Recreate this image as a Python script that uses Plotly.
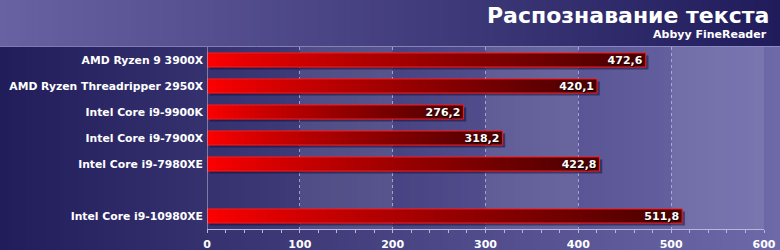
import plotly.graph_objects as go

# ---- data ----
categories = ["AMD Ryzen 9 3900X", "AMD Ryzen Threadripper 2950X", "Intel Core i9-9900K",
              "Intel Core i9-7900X", "Intel Core i9-7980XE", "Intel Core i9-10980XE"]
values = [472.6, 420.1, 276.2, 318.2, 422.8, 511.8]
slots = [0, 1, 2, 3, 4, 6]          # row index (row 5 is an empty gap)
x_ticks = [0, 100, 200, 300, 400, 500, 600]
title = "Распознавание текста"
subtitle = "Abbyy FineReader"

# ---- layout constants ----
W, H = 780, 250
ML, MR, MT, MB = 207, 16, 47, 21
PW, PH = W - ML - MR, H - MT - MB
FONT = "DejaVu Sans"
BAR_W = 0.54
N_SEG = 48


def px_to_paper_x(px):
    return (px - ML) / PW


def px_to_paper_y(py):
    return (H - MB - py) / PH


def lerp(c0, c1, t):
    return tuple(round(a + (b - a) * t) for a, b in zip(c0, c1))


shapes = []
N_STRIP = 120
hdr_l, hdr_r = (104, 98, 162), (32, 28, 92)
main_l, main_r = (33, 29, 90), (110, 106, 170)
for i in range(N_STRIP):
    x0 = W * i / N_STRIP
    x1 = W * (i + 1) / N_STRIP + 0.6
    t = (i + 0.5) / N_STRIP
    c = lerp(hdr_l, hdr_r, t)
    shapes.append(dict(type="rect", xref="paper", yref="paper", layer="below",
                       x0=px_to_paper_x(x0), x1=px_to_paper_x(x1),
                       y0=px_to_paper_y(0), y1=px_to_paper_y(46),
                       fillcolor="rgb(%d,%d,%d)" % c, line=dict(width=0)))
    c = lerp(main_l, main_r, t)
    shapes.append(dict(type="rect", xref="paper", yref="paper", layer="below",
                       x0=px_to_paper_x(x0), x1=px_to_paper_x(x1),
                       y0=px_to_paper_y(46), y1=px_to_paper_y(H),
                       fillcolor="rgb(%d,%d,%d)" % c, line=dict(width=0)))
shapes.append(dict(type="line", xref="paper", yref="paper", layer="below",
                   x0=px_to_paper_x(0), x1=px_to_paper_x(W),
                   y0=px_to_paper_y(46.5), y1=px_to_paper_y(46.5),
                   line=dict(color="rgba(150,146,200,0.8)", width=1)))
for a, b in zip(x_ticks[1::2], x_ticks[2::2]):
    shapes.append(dict(type="rect", xref="x", yref="paper", layer="below",
                       x0=a, x1=b, y0=0, y1=1,
                       fillcolor="rgba(255,255,255,0.09)", line=dict(width=0)))

fig = go.Figure()

# shadow
fig.add_trace(go.Bar(y=slots, x=values, base=3.0, orientation="h", width=BAR_W,
                     offset=-BAR_W / 2 + 0.1,
                     marker=dict(color="rgba(10,5,40,0.45)", line=dict(width=0)),
                     hoverinfo="skip", showlegend=False))

# gradient segments (each overlaps the next to avoid seams)
c_start, c_end = (255, 0, 0), (72, 0, 0)
for k in range(N_SEG):
    t = (k + 0.5) / N_SEG
    col = lerp(c_start, c_end, t ** 0.85)
    span = min(k + 2.0, N_SEG) - k
    fig.add_trace(go.Bar(y=slots, x=[v * span / N_SEG for v in values],
                         base=[v * k / N_SEG for v in values],
                         orientation="h", width=BAR_W,
                         marker=dict(color="rgb(%d,%d,%d)" % col, line=dict(width=0)),
                         hoverinfo="skip", showlegend=False))

# outline + labels
fig.add_trace(go.Bar(y=slots, x=values, orientation="h", width=BAR_W,
                     marker=dict(color="rgba(0,0,0,0)", line=dict(color="#ff1a1a", width=1)),
                     text=[("%.1f" % v).replace(".", ",") for v in values],
                     textposition="inside", insidetextanchor="end",
                     textfont=dict(family=FONT, size=11, color="white", weight="bold",
                                   shadow="1px 1px 1px #000000"),
                     constraintext="none", cliponaxis=False,
                     hoverinfo="skip", showlegend=False))

fig.update_layout(
    width=W, height=H, margin=dict(l=ML, r=MR, t=MT, b=MB, autoexpand=False),
    paper_bgcolor="rgba(0,0,0,0)", plot_bgcolor="rgba(0,0,0,0)",
    barmode="overlay", shapes=shapes, font=dict(family=FONT),
    xaxis=dict(range=[0, 600], tickvals=x_ticks, showgrid=True, gridcolor="rgba(190,188,225,0.75)",
               griddash="dot", gridwidth=1, zeroline=False, automargin=False,
               showline=True, linecolor="#b8b6dc", linewidth=1,
               ticks="", ticklabelstandoff=5,
               tickfont=dict(family=FONT, size=11, color="white", weight="bold"),
               minor=dict(dtick=20, ticks="outside", ticklen=3, tickcolor="#b8b6dc", showgrid=False)),
    yaxis=dict(range=[6.5, -0.5], tickvals=slots, ticktext=categories, showgrid=False,
               zeroline=False, ticks="", ticklabelstandoff=3, automargin=False,
               tickfont=dict(family=FONT, size=10.8, color="white", weight="bold")),
    annotations=[
        dict(text=title, xref="paper", yref="paper", x=px_to_paper_x(771), y=px_to_paper_y(16),
             xanchor="right", yanchor="middle", showarrow=False,
             font=dict(family=FONT, size=22, color="white", weight="bold")),
        dict(text=subtitle, xref="paper", yref="paper", x=px_to_paper_x(769), y=px_to_paper_y(34),
             xanchor="right", yanchor="middle", showarrow=False,
             font=dict(family=FONT, size=11, color="white", weight="bold")),
    ],
)
fig.add_vline(x=0, line=dict(color="#c8c6e4", width=1), layer="above")

fig.write_html("out.html")
